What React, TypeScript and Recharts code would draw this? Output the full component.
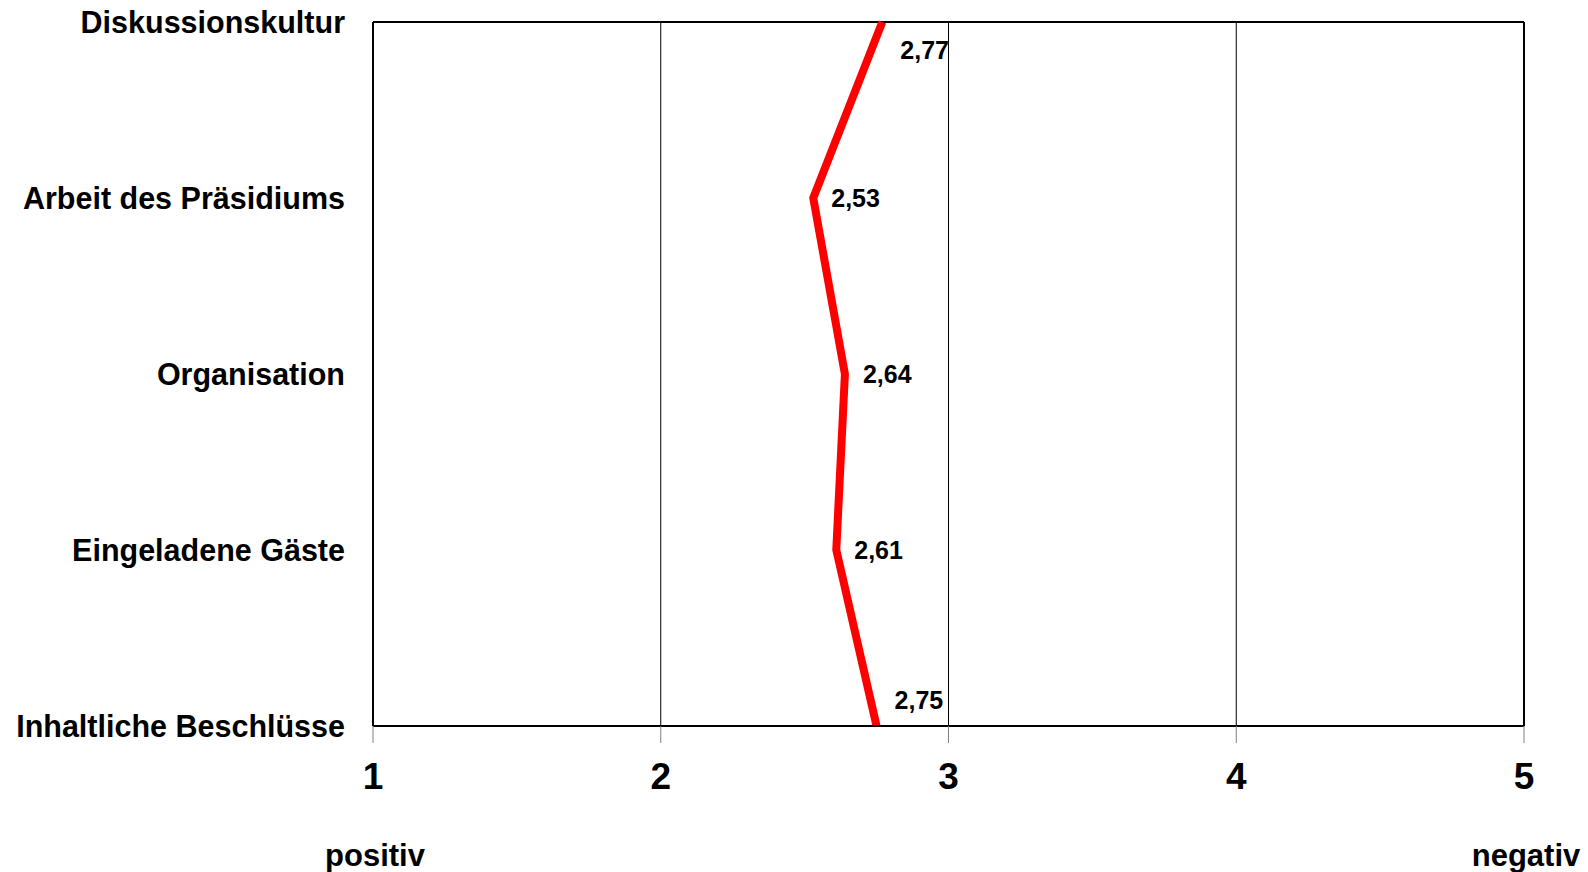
import { LineChart, Line, XAxis, YAxis, CartesianGrid, ReferenceLine } from 'recharts';

const categories = [
  'Diskussionskultur',
  'Arbeit des Präsidiums',
  'Organisation',
  'Eingeladene Gäste',
  'Inhaltliche Beschlüsse'
];
const scores = [2.77, 2.53, 2.64, 2.61, 2.75];
const scaleTicks = [1, 2, 3, 4, 5];
const scaleEnds: Record<number, string> = { 1: 'positiv', 5: 'negativ' };

const FONT = '"Liberation Sans", Arial, sans-serif';

const data = categories.map((name, i) => ({ name, value: scores[i] }));

// x-Achse: Zahl + positiv/negativ darunter
const ScaleTick = (props: any) => {
  const { x, y, payload } = props;
  const end = scaleEnds[payload.value];
  return (
    <g>
      <text
        x={x}
        y={y}
        dy={26}
        textAnchor="middle"
        fontFamily={FONT}
        fontWeight="bold"
        fontSize={37}
        fill="#000"
      >
        {payload.value}
      </text>
      {end && (
        <text
          x={x + 2}
          y={y + 103}
          textAnchor="middle"
          fontFamily={FONT}
          fontWeight="bold"
          fontSize={31}
          fill="#000"
        >
          {end}
        </text>
      )}
    </g>
  );
};

const ValueLabel = (props: any) => {
  const { x, y, index, value } = props;
  let dy = 0;
  if (index === 0) dy = 28;
  if (index === scores.length - 1) dy = -26;
  return (
    <text
      x={x + 18}
      y={y + dy}
      dominantBaseline="central"
      fontFamily={FONT}
      fontWeight="bold"
      fontSize={25}
      fill="#000"
    >
      {Number(value).toFixed(2).replace('.', ',')}
    </text>
  );
};

export default function App() {
  return (
    <div style={{ position: 'absolute', left: 0, top: 0, background: '#fff' }}>
      <LineChart
        width={1588}
        height={872}
        data={data}
        layout="vertical"
        margin={{ top: 22, right: 64, left: 0, bottom: 0 }}
      >
        <CartesianGrid horizontal={false} stroke="#000" strokeWidth={1} />
        <XAxis
          type="number"
          dataKey="value"
          domain={[1, 5]}
          ticks={scaleTicks}
          interval={0}
          height={146}
          axisLine={{ stroke: '#000', strokeWidth: 2 }}
          tickLine={{ stroke: '#808080', strokeWidth: 1 }}
          tickSize={17}
          tickMargin={20}
          tick={<ScaleTick />}
        />
        <YAxis
          type="category"
          dataKey="name"
          scale="point"
          width={373}
          axisLine={{ stroke: '#000', strokeWidth: 2 }}
          tickLine={false}
          tickSize={0}
          tickMargin={28}
          interval={0}
          tick={{ fill: '#000', fontFamily: FONT, fontWeight: 'bold', fontSize: 30.5 }}
        />
        <ReferenceLine y={categories[0]} stroke="#000" strokeWidth={2} />
        <ReferenceLine x={5} stroke="#000" strokeWidth={2} />
        <Line
          dataKey="value"
          stroke="#ff0000"
          strokeWidth={8}
          dot={false}
          activeDot={false}
          isAnimationActive={false}
          label={<ValueLabel />}
        />
      </LineChart>
    </div>
  );
}
